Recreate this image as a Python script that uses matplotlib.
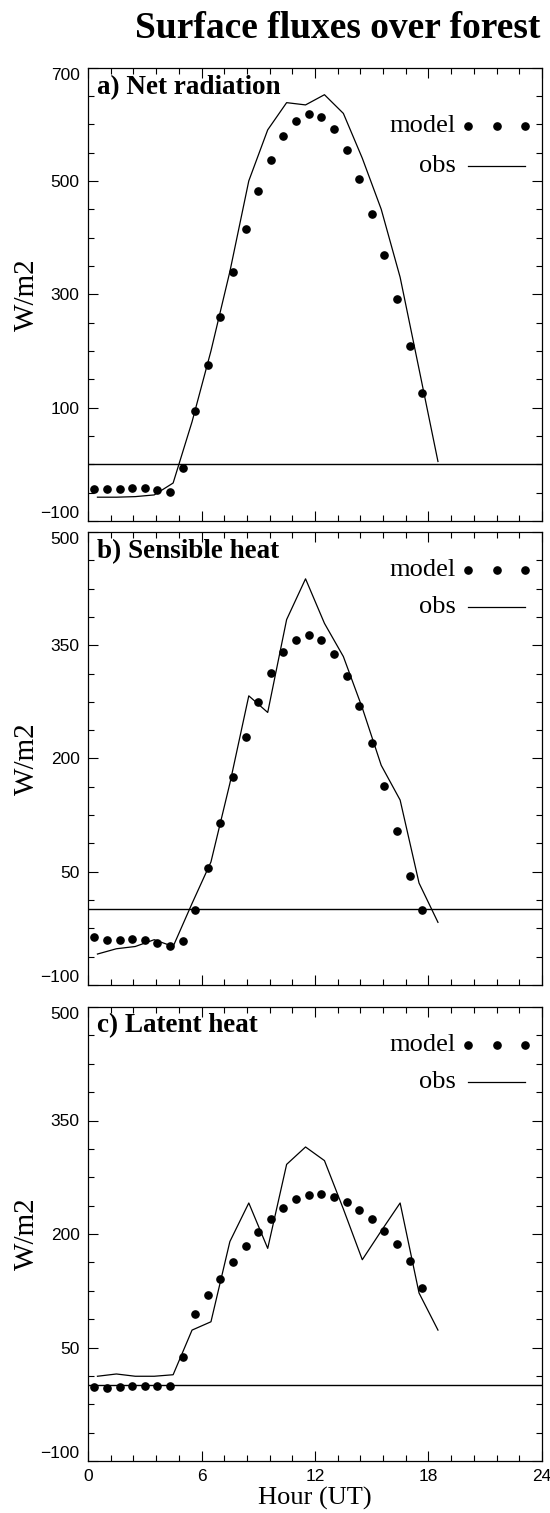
import matplotlib
matplotlib.use("Agg")
import matplotlib.pyplot as plt
from matplotlib.ticker import FixedLocator, MultipleLocator

# ---------------- data ----------------
model_hours = [0.33, 1.0, 1.67, 2.33, 3.0, 3.67, 4.33, 5.0, 5.67, 6.33, 7.0, 7.67, 8.33, 9.0,
               9.67, 10.33, 11.0, 11.67, 12.33, 13.0, 13.67, 14.33, 15.0, 15.67, 16.33, 17.0, 17.67]
obs_hours = [0.5, 1.5, 2.5, 3.5, 4.5, 5.5, 6.5, 7.5, 8.5, 9.5, 10.5, 11.5, 12.5, 13.5,
             14.5, 15.5, 16.5, 17.5, 18.5]

model_net = [-44, -44, -44, -42, -42, -46, -49, -6, 94, 176, 259, 340, 415, 482, 537, 579,
             606, 618, 612, 591, 554, 504, 442, 369, 291, 209, 126]
obs_net = [-58, -58, -57, -54, -33, 75, 200, 340, 500, 590, 638, 634, 652, 619, 540, 450,
           330, 168, 5]

model_sens = [-36, -40, -40, -39, -40, -44, -49, -42, -1, 55, 115, 175, 229, 275, 313, 341,
              357, 363, 357, 339, 309, 270, 220, 164, 104, 45, -1]
obs_sens = [-59, -52, -49, -40, -49, 8, 63, 167, 283, 261, 384, 438, 379, 335, 267, 191,
            145, 35, -17]

model_lat = [-2, -3, -2, -1, -1, -1, -1, 37, 94, 120, 141, 163, 184, 203, 220, 235, 246,
             252, 253, 249, 242, 232, 220, 204, 187, 164, 128]
obs_lat = [12, 15, 12, 12, 14, 73, 84, 190, 241, 181, 292, 315, 297, 233, 166, 204, 241,
           122, 73]

panel_titles = ["a) Net radiation", "b) Sensible heat", "c) Latent heat"]
ylims = [(-100, 700), (-100, 500), (-100, 500)]
yticks_a = [-100, 100, 300, 500, 700]
yticks_bc = [-100, 50, 200, 350, 500]
yminor_a = [-50, 0, 50, 150, 200, 250, 350, 400, 450, 550, 600, 650]
yminor_bc = [-62.5, -25, 12.5, 87.5, 125, 162.5, 237.5, 275, 312.5, 387.5, 425, 462.5]
yticks = [yticks_a, yticks_bc, yticks_bc]
yminors = [yminor_a, yminor_bc, yminor_bc]
xticks = [0, 6, 12, 18, 24]

title = "Surface fluxes over forest"
ylabel = "W/m2"
xlabel = "Hour (UT)"

# ---------------- layout ----------------
W, H = 550, 1513
fig = plt.figure(figsize=(W / 100, H / 100), dpi=100)

serif = ["Liberation Serif", "DejaVu Serif"]
sans = ["Liberation Sans", "DejaVu Sans"]

left_px, right_px = 88, 542
boxes = [(67.5, 521), (532, 985), (1007, 1461)]   # top, bottom in px
legend_y = [(0.872, 0.783), (0.916, 0.834), (0.917, 0.834)]
title_y = [0.955, 0.957, 0.960]

models = [model_net, model_sens, model_lat]
obss = [obs_net, obs_sens, obs_lat]

for i in range(3):
    top, bot = boxes[i]
    ax = fig.add_axes([left_px / W, 1 - bot / H, (right_px - left_px) / W, (bot - top) / H])
    ax.plot(obs_hours, obss[i], color="black", lw=0.9)
    ax.plot(model_hours, models[i], "o", color="black", ms=5.2, mec="black")
    ax.axhline(0, color="black", lw=1.0)

    ax.set_xlim(0, 24)
    ax.set_ylim(*ylims[i])
    ax.xaxis.set_major_locator(FixedLocator(xticks))
    ax.xaxis.set_minor_locator(MultipleLocator(1.2))
    ax.yaxis.set_major_locator(FixedLocator(yticks[i]))
    ax.yaxis.set_minor_locator(FixedLocator(yminors[i]))
    ax.tick_params(which="both", direction="in", top=True, right=True, width=0.8,
                   labelsize=12.5, pad=6, colors="black")
    ax.tick_params(which="major", length=7)
    ax.tick_params(which="minor", length=4)
    ax.set_yticklabels([str(v).replace("-", "\u2212") for v in yticks[i]])
    ylabs = ax.get_yticklabels()
    for lab in ylabs:
        lab.set_family(sans)
    ylabs[0].set_verticalalignment("bottom")
    ylabs[-1].set_verticalalignment("top")
    for sp in ax.spines.values():
        sp.set_linewidth(0.9)

    if i < 2:
        ax.set_xticklabels([])
    else:
        ax.set_xticklabels([str(v) for v in xticks])
        for lab in ax.get_xticklabels():
            lab.set_family(sans)
        ax.set_xlabel(xlabel, family=serif, fontsize=19)
        ax.xaxis.set_label_coords(0.5, -0.058)

    ax.set_ylabel(ylabel, family=serif, fontsize=21)
    ax.yaxis.set_label_coords(-0.105, 0.5)

    ax.text(0.02, title_y[i], panel_titles[i], transform=ax.transAxes, family=serif,
            fontweight="bold", fontsize=19.5, ha="left", va="center")

    ym, yo = legend_y[i]
    ax.text(0.81, ym, "model", transform=ax.transAxes, family=serif, fontsize=19,
            ha="right", va="center")
    ax.plot([0.837, 0.900, 0.963], [ym, ym, ym], "o", color="black", ms=5.2,
            transform=ax.transAxes, clip_on=False)
    ax.text(0.81, yo, "obs", transform=ax.transAxes, family=serif, fontsize=19,
            ha="right", va="center")
    ax.plot([0.837, 0.963], [yo, yo], color="black", lw=0.9, transform=ax.transAxes)

fig.text(338 / W, 1 - 28 / H, title, family=serif, fontweight="bold", fontsize=27,
         ha="center", va="center")

fig.savefig("out.png", dpi=100)
